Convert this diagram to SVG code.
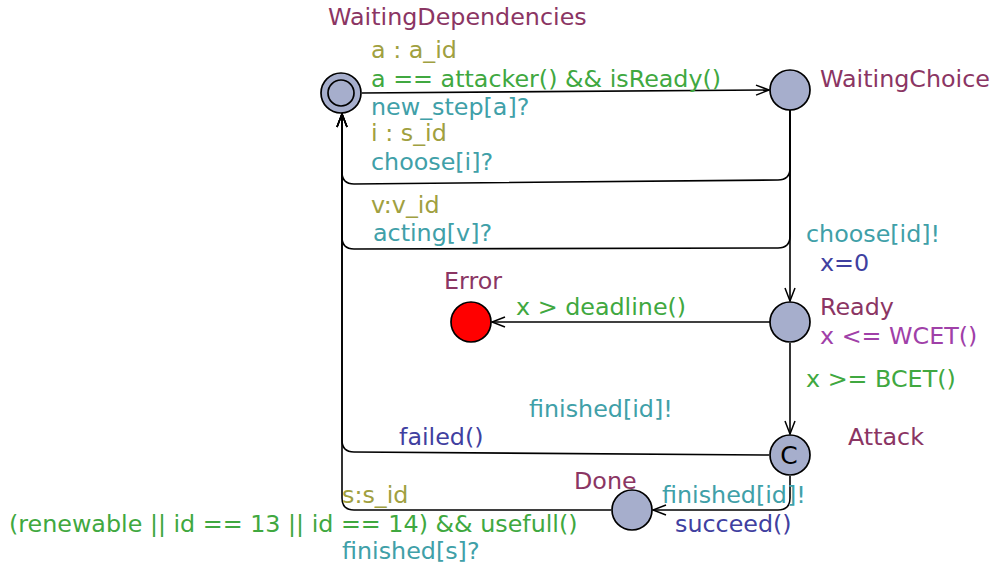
<svg xmlns="http://www.w3.org/2000/svg" width="995" height="566" viewBox="0 0 995 566">
  <style>
    text { font-family: "DejaVu Sans", "Liberation Sans", sans-serif; font-size: 23.8px; }
    .name { fill: #8b3563; }
    .sel { fill: #a0a040; }
    .guard { fill: #40a840; }
    .sync { fill: #40a0a8; }
    .upd { fill: #4040a0; }
    .inv { fill: #a040a8; }
    .loc { fill: #a6aecc; stroke: #000; stroke-width: 1.7; }
    .edge { fill: none; stroke: #000; stroke-width: 1.6; }
  </style>
  <defs>
    <marker id="arrow" markerUnits="userSpaceOnUse" markerWidth="18" markerHeight="14" viewBox="-15 -7 17 14" refX="0" refY="0" orient="auto">
      <path d="M-13,-5 L0,0 L-13,5" fill="none" stroke="#000" stroke-width="1.5"/>
    </marker>
  </defs>

  <!-- transitions -->
  <g id="edges">
    <path class="edge" d="M362,93 L769,90" marker-end="url(#arrow)"/>
    <path class="edge" d="M790,110 L790,168 Q790,180 778,180 L354,184 Q342,184 342,172 L342,114" marker-end="url(#arrow)"/>
    <path class="edge" d="M790,110 L790,236 Q790,248 778,248 L354,249 Q342,249 342,237 L342,114" marker-end="url(#arrow)"/>
    <path class="edge" d="M790,110 L790,301" marker-end="url(#arrow)"/>
    <path class="edge" d="M770,322 L492,322" marker-end="url(#arrow)"/>
    <path class="edge" d="M790,343 L790,434" marker-end="url(#arrow)"/>
    <path class="edge" d="M769,455 L354,452 Q342,452 342,440 L342,114" marker-end="url(#arrow)"/>
    <path class="edge" d="M790,476 L790,498 Q790,510 778,510 L653,510" marker-end="url(#arrow)"/>
    <path class="edge" d="M611,510 L354,510 Q342,510 342,498 L342,114" marker-end="url(#arrow)"/>
  </g>

  <!-- transition labels -->
  <g id="labels">
    <text class="sel" x="371" y="58">a : a_id</text>
    <text class="guard" x="371" y="87">a == attacker() &amp;&amp; isReady()</text>
    <text class="sync" x="371" y="115">new_step[a]?</text>
    <text class="sel" x="371" y="141">i : s_id</text>
    <text class="sync" x="371" y="170">choose[i]?</text>
    <text class="sel" x="371" y="213">v:v_id</text>
    <text class="sync" x="373" y="241">acting[v]?</text>
    <text class="sync" x="806" y="242">choose[id]!</text>
    <text class="upd" x="820" y="271">x=0</text>
    <text class="guard" x="516" y="315">x &gt; deadline()</text>
    <text class="guard" x="806" y="387">x &gt;= BCET()</text>
    <text class="sync" x="529" y="417">finished[id]!</text>
    <text class="upd" x="399" y="445">failed()</text>
    <text class="sel" x="342" y="503">s:s_id</text>
    <text class="sync" x="662" y="503">finished[id]!</text>
    <text class="guard" x="9" y="532">(renewable || id == 13 || id == 14) &amp;&amp; usefull()</text>
    <text class="upd" x="675" y="532">succeed()</text>
    <text class="sync" x="342" y="559">finished[s]?</text>
  </g>

  <!-- locations -->
  <g id="WaitingDependencies">
    <circle class="loc" cx="341" cy="93" r="20"/>
    <circle cx="341" cy="93" r="13" fill="none" stroke="#000" stroke-width="1.7"/>
    <text class="name" x="328" y="25">WaitingDependencies</text>
  </g>
  <g id="WaitingChoice">
    <circle class="loc" cx="790" cy="90" r="20"/>
    <text class="name" x="820" y="87">WaitingChoice</text>
  </g>
  <g id="Error">
    <circle cx="471" cy="322" r="20" fill="#ff0000" stroke="#000" stroke-width="1.7"/>
    <text class="name" x="444" y="289">Error</text>
  </g>
  <g id="Ready">
    <circle class="loc" cx="790" cy="322" r="20"/>
    <text class="name" x="820" y="315">Ready</text>
    <text class="inv" x="820" y="344">x &lt;= WCET()</text>
  </g>
  <g id="Attack">
    <circle class="loc" cx="790" cy="455" r="20"/>
    <text x="789" y="464" text-anchor="middle" fill="#000" style="font-size:25px">C</text>
    <text class="name" x="848" y="445">Attack</text>
  </g>
  <g id="Done">
    <circle class="loc" cx="632" cy="510" r="20"/>
    <text class="name" x="574" y="489">Done</text>
  </g>
</svg>
